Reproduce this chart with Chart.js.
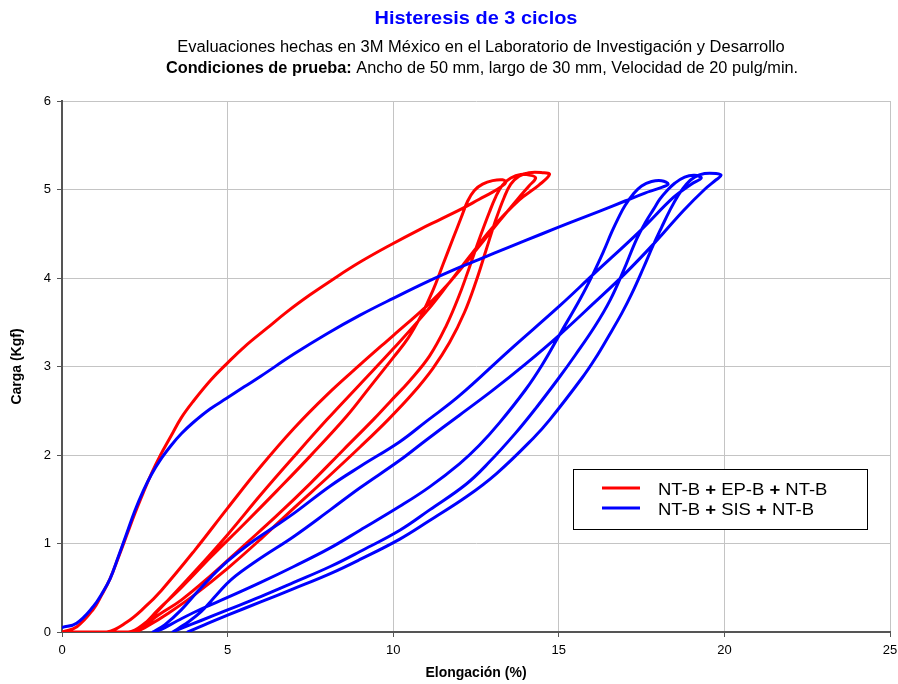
<!DOCTYPE html>
<html lang="es">
<head>
<meta charset="utf-8">
<title>Histeresis de 3 ciclos</title>
<script src="https://cdn.jsdelivr.net/npm/chart.js@4.4.1/dist/chart.umd.min.js"></script>
<style>
  html, body { margin: 0; padding: 0; background: #ffffff; }
  #grafica { display: block; }
</style>
</head>
<body>
<canvas id="grafica" width="898" height="684"></canvas>
<script>
// Textos de la gráfica
const titulo = 'Histeresis de 3 ciclos';
const subtitulo = 'Evaluaciones hechas en 3M México en el Laboratorio de Investigación y Desarrollo';
const condicionesEtiqueta = 'Condiciones de prueba:';
const condicionesTexto = ' Ancho de 50 mm, largo de 30 mm, Velocidad de 20 pulg/min.';
const tituloX = 'Elongación (%)';
const tituloY = 'Carga (Kgf)';
const series = ['NT-B + EP-B + NT-B', 'NT-B + SIS + NT-B'];
const marcasX = [0, 5, 10, 15, 20, 25];
const marcasY = [0, 1, 2, 3, 4, 5, 6];

// NT-B + EP-B + NT-B : [elongación %, carga kgf]
const rojoCarga1 = [[0,0],[0.45,0.06],[0.95,0.26],[1.2,0.42],[1.45,0.6],[1.7,0.84],[1.95,1.09],[2.2,1.34],[2.46,1.58],[2.7,1.79],[2.96,1.99],[3.3,2.22],[3.6,2.42],[3.97,2.61],[4.5,2.85],[4.97,3.03],[5.5,3.22],[6.18,3.43],[6.8,3.62],[7.49,3.81],[8.2,3.99],[9.0,4.18],[9.9,4.37],[10.81,4.55],[11.41,4.66],[12.11,4.79],[12.6,4.89],[13.0,4.97],[13.25,5.03],[13.4,5.08]];
const rojoDescarga1 = [[13.3,5.11],[13.0,5.1],[12.7,5.06],[12.45,4.99],[12.25,4.87],[12.05,4.68],[11.8,4.44],[11.5,4.15],[11.2,3.86],[10.85,3.58],[10.45,3.32],[10.0,3.1],[9.3,2.77],[8.6,2.44],[7.5,1.99],[6.5,1.6],[5.5,1.22],[4.5,0.85],[3.6,0.5],[2.9,0.25],[2.45,0.08],[2.1,0]];
const rojoCarga2 = [[0,0],[1.35,0],[1.95,0.11],[2.5,0.28],[3.0,0.47],[4.0,0.92],[5.0,1.4],[6.0,1.87],[7.0,2.3],[8.0,2.68],[9.0,3.02],[10.0,3.35],[11.0,3.68],[11.7,3.95],[12.6,4.36],[13.2,4.64],[13.8,4.91],[14.1,5.04],[14.3,5.13]];
const rojoDescarga2 = [[14.15,5.16],[13.85,5.17],[13.55,5.13],[13.3,5.05],[13.1,4.92],[12.9,4.74],[12.6,4.44],[12.3,4.12],[12.0,3.81],[11.6,3.46],[11.1,3.12],[10.5,2.84],[9.9,2.6],[9.4,2.4],[8.5,2.06],[7.5,1.68],[6.5,1.32],[5.5,0.98],[4.5,0.64],[3.6,0.36],[2.9,0.19],[2.45,0.06],[2.15,0]];
const rojoCarga3 = [[0,0],[2.0,0],[2.5,0.1],[3.0,0.28],[4.0,0.68],[5.0,1.1],[6.0,1.55],[7.0,1.98],[8.0,2.4],[9.0,2.8],[10.0,3.2],[11.0,3.62],[11.7,3.95],[12.3,4.24],[13.0,4.57],[13.8,4.88],[14.4,5.05],[14.72,5.17]];
const rojoDescarga3 = [[14.5,5.19],[14.1,5.19],[13.8,5.15],[13.55,5.06],[13.35,4.91],[13.1,4.66],[12.8,4.31],[12.5,3.96],[12.15,3.61],[11.7,3.27],[11.2,2.98],[10.6,2.7],[9.85,2.4],[9.0,2.09],[8.0,1.74],[7.0,1.4],[6.0,1.05],[5.0,0.72],[4.0,0.42],[3.2,0.21],[2.6,0.07],[2.25,0]];

// NT-B + SIS + NT-B : [elongación %, carga kgf]
const azulCarga1 = [[0,0.05],[0.44,0.1],[0.95,0.29],[1.2,0.43],[1.45,0.6],[1.7,0.85],[1.95,1.11],[2.2,1.37],[2.46,1.6],[2.7,1.78],[2.96,1.94],[3.3,2.11],[3.6,2.24],[3.97,2.37],[4.47,2.52],[4.97,2.64],[5.5,2.77],[6.0,2.89],[7.0,3.14],[8.0,3.37],[9.0,3.58],[10.0,3.77],[11.1,3.97],[12.0,4.12],[12.6,4.21],[13.5,4.35],[14.5,4.5],[15.3,4.62],[16.2,4.75],[17.0,4.87],[17.6,4.96],[18.0,5.01],[18.3,5.06]];
const azulDescarga1 = [[18.1,5.1],[17.8,5.09],[17.5,5.04],[17.25,4.95],[17.0,4.82],[16.8,4.68],[16.6,4.52],[16.35,4.3],[16.04,4.05],[15.64,3.76],[15.04,3.37],[14.5,3.02],[14.0,2.74],[13.2,2.36],[12.6,2.11],[12.0,1.9],[11.1,1.64],[10.2,1.42],[9.0,1.15],[8.1,0.95],[7.0,0.74],[6.0,0.56],[5.0,0.39],[4.2,0.26],[3.5,0.13],[3.0,0.03],[2.75,0]];
const azulCarga2 = [[3.1,0.08],[3.6,0.25],[4.1,0.46],[4.5,0.62],[5.0,0.8],[5.6,0.98],[6.3,1.16],[7.0,1.34],[8.1,1.65],[9.0,1.87],[10.2,2.15],[11.0,2.38],[12.0,2.67],[13.5,3.18],[15.04,3.69],[16.04,4.04],[17.45,4.53],[18.46,4.91],[19.0,5.06],[19.3,5.13]];
const azulDescarga2 = [[19.1,5.16],[18.8,5.14],[18.5,5.07],[18.25,4.98],[18.05,4.89],[17.85,4.77],[17.65,4.65],[17.35,4.44],[16.95,4.08],[16.55,3.75],[16.1,3.46],[15.5,3.13],[15.0,2.87],[14.33,2.54],[13.7,2.25],[12.9,1.92],[12.2,1.67],[11.1,1.38],[10.2,1.15],[9.0,0.91],[8.1,0.74],[7.0,0.56],[6.0,0.4],[5.0,0.25],[4.2,0.13],[3.6,0.04],[3.35,0]];
const azulCarga3 = [[3.8,0.11],[4.2,0.23],[4.67,0.42],[5.1,0.59],[5.9,0.81],[7.0,1.08],[8.1,1.38],[9.0,1.63],[10.2,1.94],[11.0,2.17],[12.0,2.45],[13.0,2.73],[14.0,3.03],[15.0,3.35],[16.04,3.71],[17.0,4.05],[17.85,4.38],[18.76,4.76],[19.4,5.0],[19.75,5.11],[19.9,5.16]];
const azulDescarga3 = [[19.75,5.18],[19.4,5.18],[19.1,5.14],[18.85,5.06],[18.6,4.93],[18.36,4.77],[18.1,4.57],[17.85,4.37],[17.55,4.11],[17.2,3.82],[16.9,3.6],[16.5,3.34],[16.1,3.09],[15.7,2.87],[14.73,2.4],[14.23,2.19],[13.12,1.79],[12.22,1.53],[11.1,1.26],[10.2,1.05],[9.0,0.82],[8.1,0.66],[7.0,0.49],[6.0,0.34],[5.0,0.19],[4.3,0.08],[3.8,0]];

const ROJO = '#ff0000';
const AZUL = '#0000ff';
const FUENTE = '"Liberation Sans", Arial, Helvetica, sans-serif';

// Une las ramas de carga y descarga en un solo trazo continuo
function trazo(...ramas) {
  return ramas.flat().map(([x, y]) => ({ x, y }));
}

// Texto en tramos de distinta fuente, con ligero ensanche horizontal
function textoTramos(ctx, tramos, x, y, escala, alinear) {
  let total = 0;
  for (const t of tramos) { ctx.font = t.fuente; total += ctx.measureText(t.texto).width; }
  const inicio = alinear === 'center' ? x - total * escala / 2 : x;
  ctx.save();
  ctx.translate(inicio, y);
  ctx.scale(escala, 1);
  ctx.textAlign = 'left';
  ctx.textBaseline = 'alphabetic';
  let pos = 0;
  for (const t of tramos) {
    ctx.font = t.fuente;
    ctx.fillStyle = t.color;
    ctx.fillText(t.texto, pos, 0);
    pos += ctx.measureText(t.texto).width;
  }
  ctx.restore();
}

// Encabezado y leyenda dibujados sobre el lienzo
const encabezadoYLeyenda = {
  id: 'encabezadoYLeyenda',
  afterDraw(chart) {
    const ctx = chart.ctx;
    const normal = '16px ' + FUENTE;
    const negrita = 'bold 16px ' + FUENTE;
    textoTramos(ctx, [{ texto: titulo, fuente: 'bold 19px ' + FUENTE, color: AZUL }], 476, 24, 1.05, 'center');
    textoTramos(ctx, [{ texto: subtitulo, fuente: normal, color: '#000' }], 481, 52, 1.03, 'center');
    textoTramos(ctx, [
      { texto: condicionesEtiqueta, fuente: negrita, color: '#000' },
      { texto: condicionesTexto, fuente: normal, color: '#000' }
    ], 482, 73, 1.02, 'center');

    // Leyenda
    ctx.save();
    ctx.fillStyle = '#ffffff';
    ctx.fillRect(573.5, 469.5, 294, 60);
    ctx.strokeStyle = '#000000';
    ctx.lineWidth = 1;
    ctx.strokeRect(573.5, 469.5, 294, 60);
    const colores = [ROJO, AZUL];
    const lineasY = [488, 508];
    const basesY = [495, 515];
    const fl = '16.5px ' + FUENTE;
    const flb = 'bold 16.5px ' + FUENTE;
    series.forEach((nombre, i) => {
      ctx.strokeStyle = colores[i];
      ctx.lineWidth = 3;
      ctx.beginPath();
      ctx.moveTo(602, lineasY[i]);
      ctx.lineTo(640, lineasY[i]);
      ctx.stroke();
      const tramos = [];
      nombre.split(' + ').forEach((p, k) => {
        if (k > 0) {
          tramos.push({ texto: ' ', fuente: fl, color: '#000' });
          tramos.push({ texto: '+', fuente: flb, color: '#000' });
          tramos.push({ texto: ' ', fuente: fl, color: '#000' });
        }
        tramos.push({ texto: p, fuente: fl, color: '#000' });
      });
      textoTramos(ctx, tramos, 658, basesY[i], 1.12, 'left');
    });
    ctx.restore();
  }
};

Chart.defaults.font.family = FUENTE;
Chart.defaults.color = '#000000';

new Chart(document.getElementById('grafica'), {
  type: 'scatter',
  data: {
    datasets: [
      {
        label: series[1],
        data: trazo(azulCarga1, azulDescarga1, azulCarga2, azulDescarga2, azulCarga3, azulDescarga3),
        borderColor: AZUL,
        order: 0
      },
      {
        label: series[0],
        data: trazo(rojoCarga1, rojoDescarga1, rojoCarga2, rojoDescarga2, rojoCarga3, rojoDescarga3),
        borderColor: ROJO,
        order: 1
      }
    ]
  },
  options: {
    responsive: false,
    animation: false,
    devicePixelRatio: 1,
    layout: { padding: { top: 101, right: 8, bottom: 0, left: 0 } },
    datasets: {
      scatter: {
        showLine: true,
        borderWidth: 3,
        tension: 0.4,
        pointRadius: 0,
        pointHoverRadius: 0,
        borderCapStyle: 'round',
        borderJoinStyle: 'round',
        fill: false
      }
    },
    plugins: {
      legend: { display: false },
      title: { display: false },
      tooltip: { enabled: false }
    },
    scales: {
      x: {
        type: 'linear',
        min: marcasX[0],
        max: marcasX[marcasX.length - 1],
        afterBuildTicks(escala) { escala.ticks = marcasX.map(v => ({ value: v })); },
        afterFit(escala) {
          escala.height = 52;
          escala.paddingLeft = 0;
          escala.paddingRight = 0;
        },
        ticks: { font: { size: 13 }, padding: 6, maxRotation: 0 },
        grid: { color: '#c4c4c4', lineWidth: 1, tickLength: 5, tickColor: '#555555' },
        border: { color: '#555555', width: 2 },
        title: { display: true, text: tituloX, font: { size: 14, weight: 'bold' }, padding: { top: 0, bottom: 2 } }
      },
      y: {
        type: 'linear',
        min: marcasY[0],
        max: marcasY[marcasY.length - 1],
        afterBuildTicks(escala) { escala.ticks = marcasY.map(v => ({ value: v })); },
        afterFit(escala) {
          escala.width = 62;
          escala.paddingTop = 0;
          escala.paddingBottom = 0;
        },
        ticks: { font: { size: 13 }, padding: 6 },
        grid: { color: '#c4c4c4', lineWidth: 1, tickLength: 5, tickColor: '#555555' },
        border: { color: '#555555', width: 2 },
        title: { display: true, text: tituloY, font: { size: 14, weight: 'bold' }, padding: { top: 9, bottom: 0 } }
      }
    }
  },
  plugins: [encabezadoYLeyenda]
});
</script>
</body>
</html>
